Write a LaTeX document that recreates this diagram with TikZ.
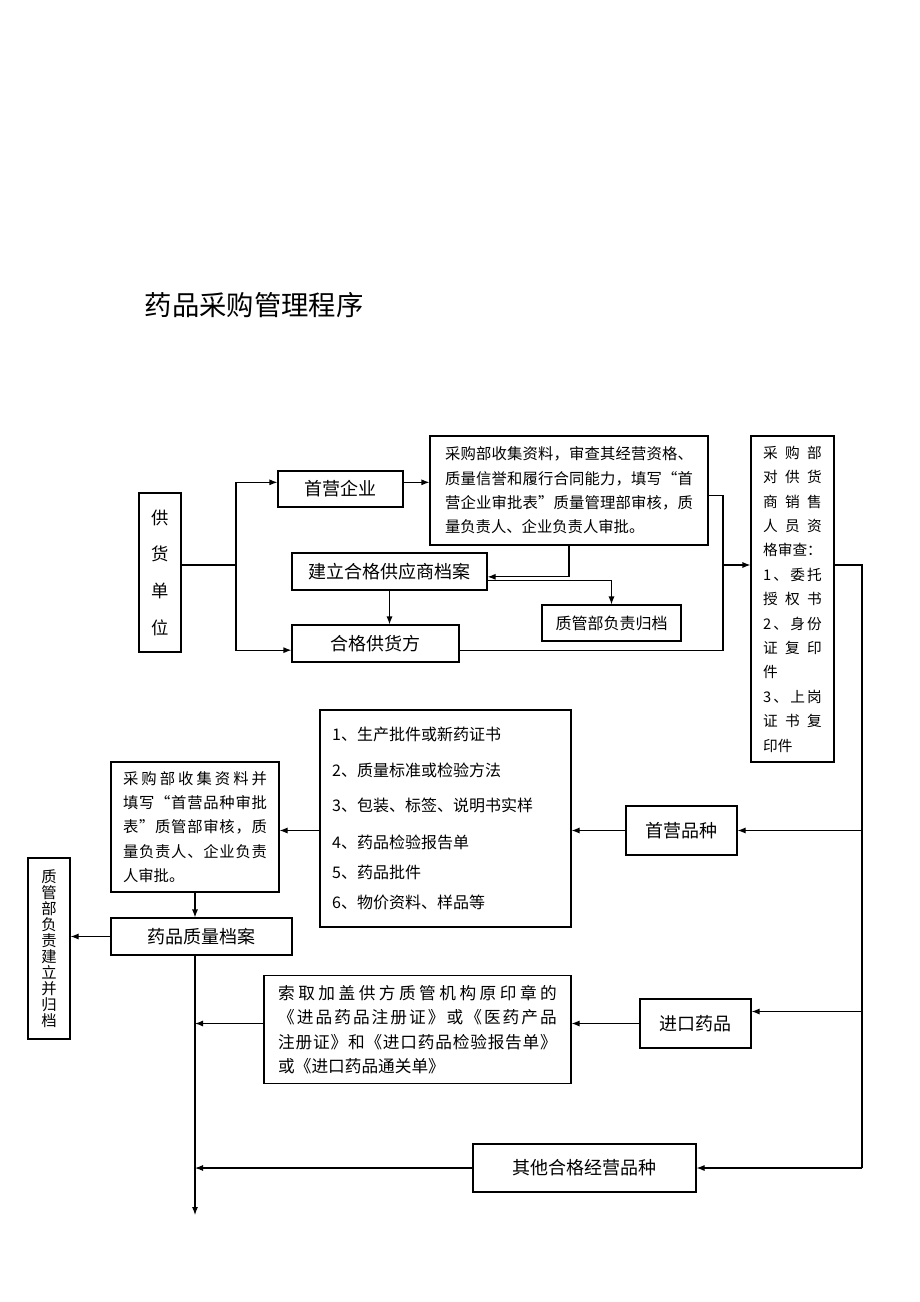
\documentclass[tikz,border=0pt]{standalone}
\usepackage{fontspec}
\setmainfont{Noto Sans CJK SC}
\usetikzlibrary{arrows.meta}
\makeatletter
\newcommand{\jl@end}{}
\def\jl@loop#1#2{#1\ifx#2\jl@end\expandafter\@gobble\else\hfil\expandafter\jl@loop\fi#2}
\newcommand{\jl}[2]{\makebox[#1][s]{\jl@loop#2\jl@end}}
\makeatother
\newcommand{\midfont}{\fontsize{13.5}{16}\selectfont}
\tikzset{
  box/.style={draw, line width=0.8pt, inner sep=0pt, align=center},
  sz/.style 2 args={minimum width=#1*0.75pt, minimum height=#2*0.75pt},
  link/.style={line width=0.8pt},
  >={Latex[length=6pt,width=4.5pt]}
}

\begin{document}
\begin{tikzpicture}[x=0.75pt, y=-0.75pt]
      \useasboundingbox (0,0) rectangle (920,1302);

      \node[anchor=west, font=\fontsize{20.5}{24}\selectfont] (title) at (140,305) {药品采购管理程序};

      % top part: suppliers
      \node[box, sz={42}{159}, font=\fontsize{13}{27.5}\selectfont] (supply) at (160,572.5) {供\\货\\单\\位};
      \node[box, sz={125}{36}, font=\midfont] (firstent) at (340.5,489) {首营企业};
      \node[box, sz={278}{109}, text width=186pt, align=left, font=\fontsize{11.5}{18.2}\selectfont] (review) at (569,490.5)
        {\jl{186pt}{采购部收集资料，审查其经营资格、}\\ \jl{186pt}{质量信誉和履行合同能力，填写“首}\\ \jl{186pt}{营企业审批表”质量管理部审核，质}\\ 量负责人、企业负责人审批。};
      \node[box, sz={195}{37}, font=\midfont] (archive) at (389.5,571.5) {建立合格供应商档案};
      \node[box, sz={167}{37}, font=\midfont] (qualsup) at (375.5,643.5) {合格供货方};
      \node[box, sz={139}{36}, font=\fontsize{12}{14}\selectfont] (qafile) at (611.5,623) {质管部负责归档};
      \node[box, sz={83}{326}, text width=44pt, align=left, font=\fontsize{11}{18.3}\selectfont] (staff) at (792.5,599)
        {\jl{44pt}{采购部}\\ \jl{44pt}{对供货}\\ \jl{44pt}{商销售}\\ \jl{44pt}{人员资}\\ 格审查：\\ \jl{44pt}{1、委托}\\ \jl{44pt}{授权书}\\ \jl{44pt}{2、身份}\\ \jl{44pt}{证复印}\\ 件\\ \jl{44pt}{3、上岗}\\ \jl{44pt}{证书复}\\ 印件};

      % lower part: drugs
      \node[box, sz={111}{49}, font=\midfont] (newdrug) at (681.5,830.5) {首营品种};
      \node[box, sz={251}{217}, text width=170pt, align=left, font=\fontsize{12}{22.5}\selectfont] (doclist) at (445.5,818.5)
        {1、生产批件或新药证书\\[4.5pt] 2、质量标准或检验方法\\[3.75pt] 3、包装、标签、说明书实样\\[5.25pt] 4、药品检验报告单\\ 5、药品批件\\ 6、物价资料、样品等};
      \node[box, sz={168}{130}, text width=108pt, align=left, font=\fontsize{11.5}{18.2}\selectfont] (drugreview) at (195,827)
        {\jl{108pt}{采购部收集资料并}\\ \jl{108pt}{填写“首营品种审批}\\ \jl{108pt}{表”质管部审核，质}\\ \jl{108pt}{量负责人、企业负责}\\ 人审批。};
      \node[box, sz={181}{37}, font=\midfont] (drugfile) at (201.5,936.5) {药品质量档案};
      \node[box, sz={42}{181}, font=\fontsize{11.5}{12}\selectfont] (qabuild) at (49,948.5) {质\\管\\部\\负\\责\\建\\立\\并\\归\\档};
      \node[box, sz={111}{49}, font=\midfont] (import) at (695.5,1023.5) {进口药品};
      \node[box, sz={307}{108}, text width=209pt, align=left, font=\fontsize{12.5}{18.2}\selectfont] (certs) at (417.5,1029.5)
        {\jl{209pt}{索取加盖供方质管机构原印章的}\\ \jl{209pt}{《进品药品注册证》或《医药产品}\\ \jl{209pt}{注册证》和《进口药品检验报告单》}\\ 或《进口药品通关单》};
      \node[box, sz={223}{48}, font=\midfont] (other) at (584.5,1168) {其他合格经营品种};

      \coordinate (j1) at (236,565);
      \coordinate (j2) at (723,565);
      \coordinate (trunk) at (862,1168);
      \coordinate (out) at (195,1215);
      \coordinate (fin) at ([yshift=5pt]firstent.west);
      \coordinate (fout) at ([yshift=5pt]firstent.east);
      \coordinate (qin) at ([yshift=-5pt]qualsup.west);
      \coordinate (qout) at ([yshift=-5pt]qualsup.east);
      \coordinate (rout) at ([yshift=-4pt]review.east);
      \coordinate (ain) at ([yshift=-4pt]archive.east);
      \coordinate (aout) at ([yshift=-7pt]archive.east);
      \coordinate (iin) at ([yshift=9pt]import.east);

      \draw[link] (supply.east |- j1) -- (j1);
      \draw[link, ->] (j1) |- (fin);
      \draw[link, ->] (j1) |- (qin);
      \draw[link, ->] (fout) -- (fout -| review.west);
      \draw[link] (rout) -| (j2);
      \draw[link] (qout) -| (j2);
      \draw[link, ->] (j2) -- (j2 -| staff.west);
      \draw[link, ->] (review.south) |- (ain);
      \draw[link, ->] (aout) -| (qafile.north);
      \draw[link, ->] (archive.south) -- (archive.south |- qualsup.north);

      \draw[link] (staff.east |- j2) -| (trunk);
      \draw[link, ->] (newdrug.east -| trunk) -- (newdrug.east);
      \draw[link, ->] (iin -| trunk) -- (iin);
      \draw[link, ->] (trunk) -- (other.east);

      \draw[link, ->] (newdrug.west) -- (newdrug.west -| doclist.east);
      \draw[link, ->] (doclist.west |- newdrug.west) -- (newdrug.west -| drugreview.east);
      \draw[link, ->] (drugreview.south) -- (drugreview.south |- drugfile.north);
      \draw[link, ->] (drugfile.west) -- (drugfile.west -| qabuild.east);
      \draw[link, ->] (drugfile.south -| out) -- (out);
      \draw[link, ->] (import.west) -- (import.west -| certs.east);
      \draw[link, ->] (certs.west |- import.west) -- (import.west -| out);
      \draw[link, ->] (other.west) -- (other.west -| out);
\end{tikzpicture}
\end{document}
